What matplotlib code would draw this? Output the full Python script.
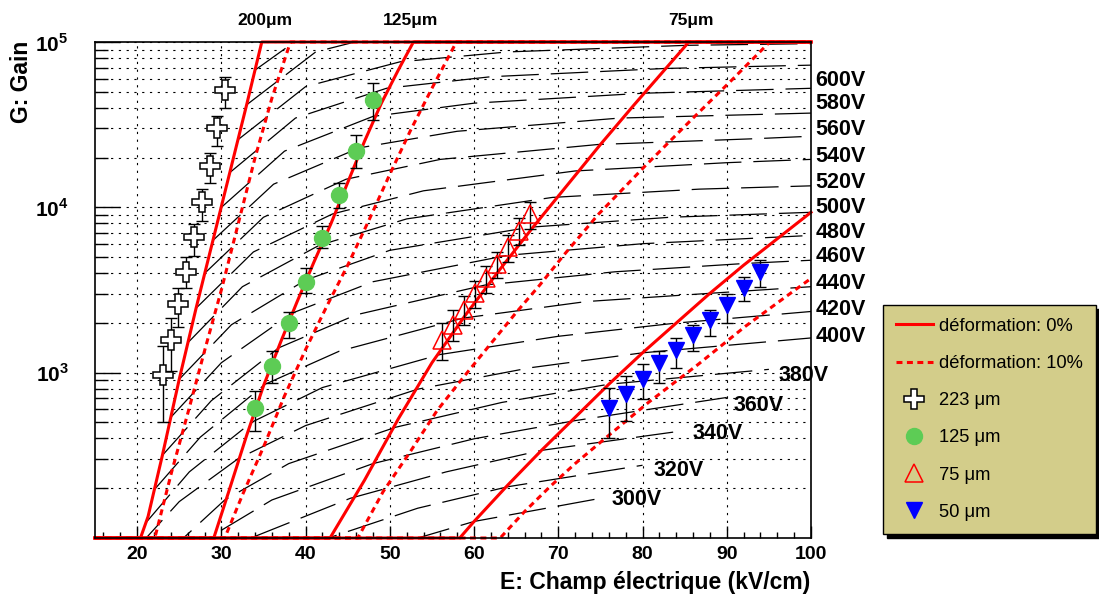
import numpy as np
import matplotlib
matplotlib.use('Agg')
import matplotlib.pyplot as plt
from matplotlib.ticker import LogLocator, NullFormatter

plt.rcParams['font.family'] = ['Liberation Sans', 'DejaVu Sans']
plt.rcParams['mathtext.fontset'] = 'custom'
plt.rcParams['mathtext.rm'] = 'Liberation Sans:bold'
plt.rcParams['mathtext.bf'] = 'Liberation Sans:bold'
plt.rcParams['lines.scale_dashes'] = False

# gain model curves, E in kV/cm, log10(G); solid = 0% deformation, dashed = 10%
e200_0 = [15, 20.4, 21.3, 23, 25, 27, 29, 31, 33, 34.8, 100]
g200_0 = [2, 2, 2.13, 2.50, 2.96, 3.39, 3.80, 4.21, 4.62, 5.0, 5.0]
e200_10 = [15, 22.1, 24.1, 26.1, 28.1, 30, 32, 34, 36, 38.2, 100]
g200_10 = [2, 2, 2.40, 2.77, 3.15, 3.50, 3.90, 4.30, 4.66, 5.0, 5.0]
e125_0 = [15, 29.1, 31, 33, 35, 37, 39, 41, 43, 45, 47, 49, 51, 52.8, 100]
g125_0 = [2, 2, 2.30, 2.62, 2.92, 3.18, 3.43, 3.67, 3.90, 4.15, 4.40, 4.63, 4.83, 5.0, 5.0]
e125_10 = [15, 30.4, 32.5, 35, 37.5, 40, 42.5, 45, 47.5, 50, 52.5, 55, 57.9, 100]
g125_10 = [2, 2, 2.26, 2.55, 2.86, 3.14, 3.40, 3.65, 3.92, 4.20, 4.47, 4.72, 5.0, 5.0]
e75_0 = [15, 42.9, 47, 51, 55, 59, 63, 67, 71, 75, 79, 85.5, 100]
g75_0 = [2, 2, 2.35, 2.72, 3.06, 3.35, 3.62, 3.88, 4.13, 4.38, 4.62, 5.0, 5.0]
e75_10 = [15, 46.2, 49.2, 52.4, 55.6, 58.7, 61.9, 65.1, 67.8, 70.8, 74.8, 80.3, 85.8, 90.6, 95.1, 100]
g75_10 = [2, 2, 2.28, 2.52, 2.77, 2.97, 3.17, 3.37, 3.53, 3.72, 3.96, 4.25, 4.53, 4.77, 5.0, 5.0]
e50_0 = [15, 58.3, 60, 64, 68, 72, 76, 80, 84, 88, 92, 96, 100]
g50_0 = [2, 2, 2.10, 2.32, 2.53, 2.73, 2.93, 3.12, 3.30, 3.48, 3.65, 3.81, 3.97]
e50_10 = [15, 63.1, 66, 69, 72, 75.5, 80.7, 86.6, 92.2, 98.1, 100]
g50_10 = [2, 2, 2.16, 2.31, 2.45, 2.60, 2.82, 3.05, 3.28, 3.50, 3.57]

# constant-voltage curves (V), E in kV/cm, log10(G)
volts = [300, 320, 340, 360, 380, 400, 420, 440, 460, 480, 500,
         520, 540, 560, 580, 600, 620, 640, 660, 680]
iso_e = [
    [30, 40, 50, 60, 75],
    [25.6, 32, 42.7, 53.3, 64, 80],
    [21.2, 27.2, 34, 45.3, 56.7, 68, 85],
    [18, 22.5, 28.8, 36, 48, 60, 72, 90],
    [19, 23.8, 30.4, 38, 50.7, 63.3, 76, 95],
    [20, 25, 32, 40, 53.3, 66.7, 80, 100],
    [21, 26.2, 33.6, 42, 56, 70, 84, 100],
    [22, 27.5, 35.2, 44, 58.7, 73.3, 88, 100],
    [23, 28.8, 36.8, 46, 61.3, 76.7, 92, 100],
    [24, 30, 38.4, 48, 64, 80, 100],
    [25, 31.2, 40, 50, 66.7, 83.3, 100],
    [26, 32.5, 41.6, 52, 69.3, 86.7, 100],
    [27, 33.8, 43.2, 54, 72, 90, 100],
    [28, 35, 44.8, 56, 74.7, 93.3, 100],
    [29, 36.2, 46.4, 58, 77.3, 100],
    [30, 37.5, 48, 60, 80, 100],
    [31, 38.8, 49.6, 62, 82.7, 100],
    [32, 40, 51.2, 64, 85.3, 100],
    [33, 41.2, 52.8, 66],
    [34, 42.5, 55],
]
iso_g = [
    [1.48, 1.75, 1.95, 2.10, 2.24],
    [1.52, 1.76, 2.00, 2.18, 2.31, 2.44],
    [1.50, 1.78, 2.01, 2.24, 2.40, 2.53, 2.65],
    [1.50, 1.72, 2.01, 2.23, 2.45, 2.60, 2.71, 2.85],
    [1.62, 1.92, 2.23, 2.45, 2.67, 2.82, 2.93, 3.02],
    [1.94, 2.22, 2.48, 2.68, 2.90, 3.03, 3.12, 3.21],
    [2.09, 2.40, 2.70, 2.91, 3.11, 3.22, 3.30, 3.37],
    [2.29, 2.61, 2.93, 3.13, 3.33, 3.43, 3.48, 3.52],
    [2.50, 2.83, 3.15, 3.35, 3.53, 3.61, 3.66, 3.68],
    [2.73, 3.06, 3.36, 3.55, 3.71, 3.78, 3.83],
    [2.96, 3.29, 3.56, 3.74, 3.88, 3.94, 3.97],
    [3.18, 3.52, 3.77, 3.93, 4.06, 4.11, 4.13],
    [3.39, 3.73, 3.96, 4.10, 4.22, 4.27, 4.29],
    [3.60, 3.94, 4.17, 4.29, 4.38, 4.415, 4.43],
    [3.80, 4.14, 4.36, 4.46, 4.54, 4.57],
    [4.00, 4.34, 4.55, 4.63, 4.69, 4.72],
    [4.21, 4.54, 4.72, 4.79, 4.84, 4.86],
    [4.41, 4.73, 4.88, 4.94, 4.98, 4.99],
    [4.62, 4.94, 5.09, 5.16],
    [4.83, 5.14, 5.30],
]

# measurements
e223 = [23.1, 24.0, 24.9, 25.8, 26.8, 27.7, 28.6, 29.5, 30.4]
g223 = [970, 1580, 2590, 4050, 6600, 10700, 17800, 30000, 51000]
g223_lo = [500, 1020, 1900, 3240, 5100, 8300, 14100, 23400, 39800]
g223_hi = [1450, 2140, 3240, 5000, 7900, 12900, 21400, 35500, 61700]

e125 = [34, 36, 38, 40, 42, 44, 46, 48]
g125 = [610, 1100, 2000, 3550, 6500, 11800, 21900, 44700]
g125_lo = [441, 871, 1622, 3020, 5660, 9890, 17400, 33900]
g125_hi = [776, 1346, 2344, 4300, 7660, 14000, 27500, 56200]

e75 = [56.2, 57.5, 58.8, 60.1, 61.4, 62.7, 64.0, 65.3, 66.6]
g75 = [1580, 1950, 2400, 3020, 3720, 4570, 5750, 7240, 9120]
g75_lo = [1200, 1550, 1950, 2450, 3050, 3750, 4700, 5900, 7400]
g75_hi = [2000, 2400, 2900, 3600, 4400, 5400, 6800, 8600, 10800]

e50 = [76, 78, 80, 82, 84, 86, 88, 90, 92, 94]
g50 = [610, 740, 910, 1140, 1380, 1700, 2090, 2570, 3240, 4070]
g50_lo = [403, 513, 692, 871, 1072, 1349, 1660, 1995, 2700, 3300]
g50_hi = [807, 955, 1122, 1349, 1622, 1950, 2400, 2985, 3800, 4790]

top_labels = ['200\u03bcm', '125\u03bcm', '75\u03bcm']
top_label_x = [35.2, 52.5, 85.8]
volt_labels = ['600V', '580V', '560V', '540V', '520V', '500V', '480V',
               '460V', '440V', '420V', '400V', '380V', '360V', '340V', '320V', '300V']
volt_label_x = [100.5] * 11 + [96.2, 90.8, 85.9, 81.3, 76.3]
volt_label_y = [4.77, 4.63, 4.47, 4.31, 4.15, 4.00, 3.85, 3.70, 3.54, 3.38, 3.22,
                2.98, 2.80, 2.63, 2.41, 2.23]

fig = plt.figure(figsize=(10.99, 5.94), dpi=100)
ax = fig.add_axes([95 / 1099, 56 / 594, 716 / 1099, 496 / 594])
ax.set_yscale('log')
ax.set_xlim(15, 100)
ax.set_ylim(100, 1e5)

red = '#ff0000'
for e, g in zip(iso_e, iso_g):
    ax.plot(e, 10 ** np.array(g), color='black', lw=0.9, ls=(0, (27, 8.6)), zorder=2)

solid_curves = [(e200_0, g200_0), (e125_0, g125_0), (e75_0, g75_0), (e50_0, g50_0)]
dash_curves = [(e200_10, g200_10), (e125_10, g125_10), (e75_10, g75_10), (e50_10, g50_10)]
for e, g in dash_curves:
    l10, = ax.plot(e, 10 ** np.array(g), color=red, lw=2.2, ls=(0, (4.3, 3.2)),
                   zorder=3, clip_on=False, dash_capstyle='butt')
for e, g in solid_curves:
    l0, = ax.plot(e, 10 ** np.array(g), color=red, lw=2.2, zorder=3.1, clip_on=False)

def points(e, g, lo, hi, **kw):
    g = np.array(g)
    yerr = [g - np.array(lo), np.array(hi) - g]
    ax.errorbar(e, g, yerr=yerr, fmt='none', ecolor='black', elinewidth=1,
                capsize=4, capthick=1, zorder=4)
    h, = ax.plot(e, g, ls='none', zorder=5, **kw)
    return h

h223 = points(e223, g223, g223_lo, g223_hi, marker='P', ms=14, mfc='white', mec='black', mew=1.1)
h125 = points(e125, g125, g125_lo, g125_hi, marker='o', ms=11.5, mfc='#5dcc55', mec='#5dcc55')
h75 = points(e75, g75, g75_lo, g75_hi, marker='^', ms=13, mfc='none', mec=red, mew=1.1)
h50 = points(e50, g50, g50_lo, g50_hi, marker='v', ms=12, mfc='#0000ff', mec='#0000ff')

# grid and axes
dots = (0, (1.6, 4.0))
ax.grid(True, which='major', axis='x', color='black', lw=0.8, ls=dots, zorder=1)
ax.grid(True, which='both', axis='y', color='black', lw=0.8, ls=dots, zorder=1)
ax.set_axisbelow(True)
ax.set_xticks(range(20, 101, 10))
ax.set_xticks(np.arange(16, 101, 2), minor=True)
ax.set_yticks([1e3, 1e4, 1e5], labels=[r'$10^{3}$', r'$10^{4}$', r'$10^{5}$'])
ax.yaxis.set_minor_locator(LogLocator(base=10, subs=np.arange(2, 10)))
ax.yaxis.set_minor_formatter(NullFormatter())
ax.tick_params(axis='x', which='major', direction='in', length=8.6, width=1, labelsize=14, pad=6)
ax.tick_params(axis='x', which='minor', direction='in', length=4.3, width=1)
ax.tick_params(axis='y', which='major', direction='in', length=18, width=1, labelsize=15, pad=19)
ax.tick_params(axis='y', which='minor', direction='in', length=9.4, width=1)
for lbl in ax.get_xticklabels():
    lbl.set_fontweight('bold')
for s in ax.spines.values():
    s.set_linewidth(1.2)
    s.set_zorder(6)

fig.text(810 / 1099, 1 - 582 / 594, 'E: Champ \u00e9lectrique (kV/cm)', ha='right',
         va='center', fontsize=16.5, fontweight='bold')
fig.text(22 / 1099, 1 - 41 / 594, 'G: Gain', rotation=90, ha='center', va='top',
         fontsize=16.5, fontweight='bold')

for t, x in zip(top_labels, top_label_x):
    ax.text(x, 1.044, t, transform=ax.get_xaxis_transform(), ha='center', va='center',
            fontsize=12.5, fontweight='bold')
for t, x, y in zip(volt_labels, volt_label_x, volt_label_y):
    ax.text(x, 10 ** y, t, ha='left', va='center', fontsize=15.5, fontweight='bold',
            clip_on=False, zorder=7)

leg = fig.legend([l0, l10, h223, h125, h75, h50],
                 ['d\u00e9formation: 0%', 'd\u00e9formation: 10%', '223 \u03bcm',
                  '125 \u03bcm', '75 \u03bcm', '50 \u03bcm'],
                 loc='upper left', bbox_to_anchor=(883 / 1099, 1 - 305 / 594),
                 fontsize=13.2, frameon=True, fancybox=False, edgecolor='black',
                 facecolor='#d3cd8a', framealpha=1, labelspacing=1.1, handlelength=2.0,
                 handletextpad=0.35, borderpad=0.7, borderaxespad=0,
                 shadow={'ox': 3, 'oy': -3, 'color': 'black', 'alpha': 1})
leg.get_frame().set_linewidth(1)

fig.savefig('out.png', dpi=100)
